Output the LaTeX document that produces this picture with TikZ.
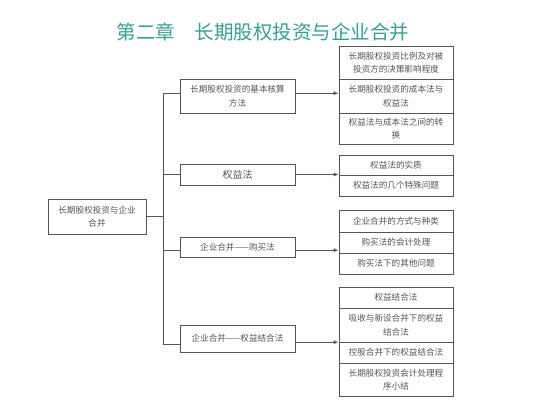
\documentclass[tikz,border=0pt]{standalone}
\usepackage{fontspec}
\setmainfont{Noto Sans CJK SC}
\usetikzlibrary{arrows.meta,calc}
\definecolor{titlec}{HTML}{3A9D96}
\definecolor{txtc}{HTML}{555555}
\definecolor{linec}{HTML}{555555}
\tikzset{
  box/.style={draw=linec, line width=0.8pt, fill=white, text=txtc, align=center,
    font=\fontsize{8.6}{13.5}\selectfont, inner sep=0pt, minimum width=#1},
  box/.default=115pt,
  cell/.style={draw=linec, line width=0.7pt, fill=white, text=txtc, align=center,
    font=\fontsize{8.6}{13.5}\selectfont, inner sep=0pt, minimum width=114pt},
  conn/.style={draw=linec, line width=0.9pt},
  arr/.style={conn, -{Latex[length=5pt,width=4pt]}}
}
\begin{document}
\begin{tikzpicture}[x=1pt,y=-1pt]
\useasboundingbox (0,0) rectangle (533,400);
% title
\node (title) [text=titlec, font=\fontsize{19.5}{22}\selectfont, inner sep=0pt] at (263,32) {第二章\hspace{1em}长期股权投资与企业合并};
% root
\node (root) [box=98pt, minimum height=35pt] at (97,216.5) {长期股权投资与企业\\合并};
% level 2
\node (A) [box, minimum height=34pt] at (237.5,96) {长期股权投资的基本核算\\方法};
\node (B) [box, minimum height=21pt, font=\fontsize{10}{12}\selectfont] at (237.5,174.5) {权益法};
\node (C) [box, minimum height=20pt] at (237.5,247) {企业合并——购买法};
\node (D) [box, minimum height=27pt] at (237.5,338.5) {企业合并——权益结合法};
% right groups
\node (g1a) [cell, minimum height=33pt] at (396,62.5) {长期股权投资比例及对被\\投资方的决策影响程度};
\node (g1b) [cell, minimum height=34pt] at (396,96) {长期股权投资的成本法与\\权益法};
\node (g1c) [cell, minimum height=31pt] at (396,128.5) {权益法与成本法之间的转\\换};
\node (g2a) [cell, minimum height=20pt] at (396,165) {权益法的实质};
\node (g2b) [cell, minimum height=21pt] at (396,185.5) {权益法的几个特殊问题};
\node (g3a) [cell, minimum height=22pt] at (396,221) {企业合并的方式与种类};
\node (g3b) [cell, minimum height=21pt] at (396,242.5) {购买法的会计处理};
\node (g3c) [cell, minimum height=21pt] at (396,263.5) {购买法下的其他问题};
\node (g4a) [cell, minimum height=21pt] at (396,297.5) {权益结合法};
\node (g4b) [cell, minimum height=34pt] at (396,325) {吸收与新设合并下的权益\\结合法};
\node (g4c) [cell, minimum height=21pt] at (396,352.5) {控股合并下的权益结合法};
\node (g4d) [cell, minimum height=33pt] at (396,379.5) {长期股权投资会计处理程\\序小结};
% connectors
\coordinate (bus) at (163,0);
\coordinate (ain) at ($(A.north west)!0.42!(A.south west)$);
\coordinate (aout) at ($(A.north east)!0.42!(A.south east)$);
\coordinate (cin) at ($(C.north west)!0.65!(C.south west)$);
\coordinate (cout) at ($(C.north east)!0.65!(C.south east)$);
\coordinate (din) at ($(D.north west)!0.70!(D.south west)$);
\coordinate (dout) at ($(D.north east)!0.63!(D.south east)$);
\draw[conn] (root.east) -- (root.east -| bus);
\draw[conn] (bus |- ain) -- (bus |- din);
\draw[conn] (bus |- ain) -- (ain);
\draw[conn] (bus |- B.west) -- (B.west);
\draw[conn] (bus |- cin) -- (cin);
\draw[conn] (bus |- din) -- (din);
\draw[arr] (aout) -- (aout -| g1b.west);
\draw[arr] (B.east) -- (B.east -| g2a.west);
\draw[arr] (cout) -- (cout -| g3b.west);
\draw[arr] (dout) -- (dout -| g4c.west);
\end{tikzpicture}
\end{document}
